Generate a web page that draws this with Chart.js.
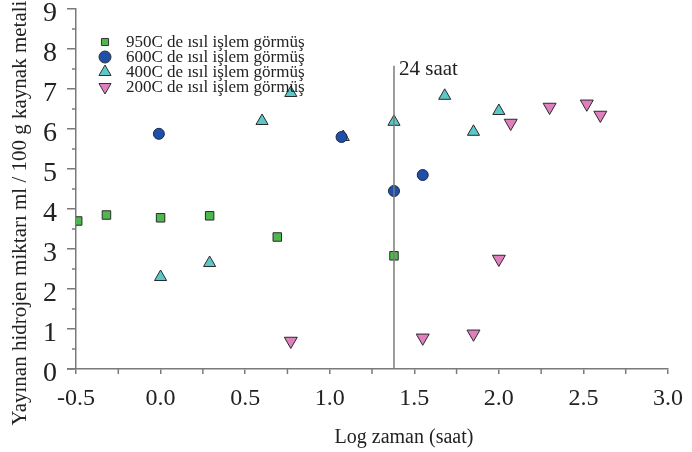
<!DOCTYPE html>
<html>
<head>
<meta charset="utf-8">
<script src="https://cdn.jsdelivr.net/npm/chart.js@4.4.1/dist/chart.umd.min.js"></script>
<style>
  html, body { margin: 0; padding: 0; background: #fff; }
  #wrap { width: 692px; height: 452px; }
</style>
</head>
<body>
<div id="wrap"><canvas id="scatterChart" width="692" height="452"></canvas></div>
<script>
// log zaman (saat) / yayinan hidrojen
const x950 = [-0.49, -0.32, 0.0, 0.29, 0.69, 1.38];
const y950 = [3.7, 3.85, 3.78, 3.83, 3.3, 2.83];
const x600 = [-0.01, 1.07, 1.38, 1.55];
const y600 = [5.88, 5.8, 4.45, 4.85];
const x400 = [0.0, 0.29, 0.6, 0.77, 1.08, 1.38, 1.68, 1.85, 2.0];
const y400 = [2.3, 2.65, 6.2, 6.9, 5.8, 6.18, 6.83, 5.93, 6.45];
const x200 = [0.77, 1.55, 1.85, 2.0, 2.07, 2.3, 2.52, 2.6];
const y200 = [0.7, 0.78, 0.88, 2.75, 6.15, 6.55, 6.63, 6.35];
const seriesLabels = ['950C de ısıl işlem görmüş', '600C de ısıl işlem görmüş', '400C de ısıl işlem görmüş', '200C de ısıl işlem görmüş'];
const xTicks = [-0.5, 0.0, 0.5, 1.0, 1.5, 2.0, 2.5, 3.0];
const yTicks = [0, 1, 2, 3, 4, 5, 6, 7, 8, 9];
const line24 = 1.38;   // log10(24)
const line24Top = 7.58;

const toPoints = (xs, ys) => xs.map((x, i) => ({ x: x, y: ys[i] }));
const serif = "'Liberation Serif', 'DejaVu Serif', serif";

const extras = {
  id: 'extras',
  afterDraw(chart) {
    const c = chart.ctx;
    const xs = chart.scales.x, ys = chart.scales.y;
    const axisCol = '#7a7a7a';
    c.save();
    c.strokeStyle = axisCol;
    c.lineWidth = 1.5;
    // minor ticks
    for (let v = -0.25; v < 3; v += 0.5) {
      const px = xs.getPixelForValue(v);
      c.beginPath(); c.moveTo(px, ys.bottom); c.lineTo(px, ys.bottom + 5); c.stroke();
    }
    for (let v = 0.5; v < 9; v += 1) {
      const py = ys.getPixelForValue(v);
      c.beginPath(); c.moveTo(xs.left, py); c.lineTo(xs.left - 4, py); c.stroke();
    }
    // x axis a bit past the y axis
    c.beginPath(); c.moveTo(xs.left - 9, ys.bottom); c.lineTo(xs.left, ys.bottom); c.stroke();

    // 24 saat line
    const lx = xs.getPixelForValue(line24);
    c.beginPath(); c.moveTo(lx, ys.getPixelForValue(line24Top)); c.lineTo(lx, ys.bottom); c.stroke();
    c.fillStyle = '#222';
    c.font = '21px ' + serif;
    c.textBaseline = 'middle';
    c.textAlign = 'left';
    c.fillText('24 saat', lx + 5, ys.getPixelForValue(line24Top) + 4);

    // legend
    c.font = '17px ' + serif;
    chart.data.datasets.forEach((ds, i) => {
      const ly = 42 + i * 15;
      c.fillStyle = ds.backgroundColor; c.strokeStyle = '#333'; c.lineWidth = 1;
      Chart.helpers.drawPoint(c, {
        pointStyle: ds.pointStyle, rotation: ds.rotation || 0,
        radius: ds.legendRadius, borderWidth: 1
      }, 105, ly);
      c.fillStyle = '#222';
      c.fillText(ds.label, 126, ly + 1);
    });

    // axis titles
    c.fillStyle = '#222';
    c.font = '20px ' + serif;
    c.textAlign = 'center';
    c.fillText('Log zaman (saat)', 404, 438);
    c.save();
    c.translate(20, 213);
    c.rotate(-Math.PI / 2);
    c.font = '21px ' + serif;
    c.fillText('Yayınan hidrojen miktarı ml / 100 g kaynak metali', 0, 0);
    c.restore();
    c.restore();
  }
};

new Chart(document.getElementById('scatterChart'), {
  type: 'scatter',
  data: {
    datasets: [
      { label: seriesLabels[0], data: toPoints(x950, y950), pointStyle: 'rect', pointRadius: 6, legendRadius: 5,
        backgroundColor: '#4db84d', borderColor: '#2a2a2a', borderWidth: 1 },
      { label: seriesLabels[1], data: toPoints(x600, y600), pointStyle: 'circle', pointRadius: 5.5, legendRadius: 6,
        backgroundColor: '#1f4fa6', borderColor: '#1a2a55', borderWidth: 1 },
      { label: seriesLabels[2], data: toPoints(x400, y400), pointStyle: 'triangle', pointRadius: 7, legendRadius: 7,
        backgroundColor: '#5cc7c7', borderColor: '#2a2a2a', borderWidth: 1 },
      { label: seriesLabels[3], data: toPoints(x200, y200), pointStyle: 'triangle', rotation: 180, pointRadius: 7.5, legendRadius: 7,
        backgroundColor: '#e07fbd', borderColor: '#2a2a2a', borderWidth: 1 }
    ]
  },
  options: {
    responsive: false,
    animation: false,
    layout: { padding: { top: 9, right: 24, left: 0, bottom: 0 } },
    plugins: { legend: { display: false }, tooltip: { enabled: false } },
    scales: {
      x: {
        type: 'linear', min: -0.5, max: 3.0,
        afterFit: s => { s.height = 83; s.paddingLeft = 0; s.paddingRight = 0; },
        afterBuildTicks: s => { s.ticks = xTicks.map(v => ({ value: v })); },
        border: { color: '#7a7a7a', width: 1.5 },
        grid: { drawOnChartArea: false, drawTicks: true, tickLength: 5, color: '#7a7a7a', lineWidth: 1.5 },
        ticks: { padding: 10, color: '#222', font: { family: serif, size: 24 },
          callback: v => v.toFixed(1), maxRotation: 0, autoSkip: false }
      },
      y: {
        type: 'linear', min: 0, max: 9,
        afterFit: s => { s.width = 76; s.paddingTop = 0; s.paddingBottom = 0; },
        afterBuildTicks: s => { s.ticks = yTicks.map(v => ({ value: v })); },
        border: { color: '#7a7a7a', width: 1.5 },
        grid: { drawOnChartArea: false, drawTicks: true, tickLength: 9, color: '#7a7a7a', lineWidth: 1.5 },
        ticks: { padding: 10, labelOffset: 5, color: '#222', font: { family: serif, size: 28 }, autoSkip: false }
      }
    }
  },
  plugins: [extras]
});
</script>
</body>
</html>
